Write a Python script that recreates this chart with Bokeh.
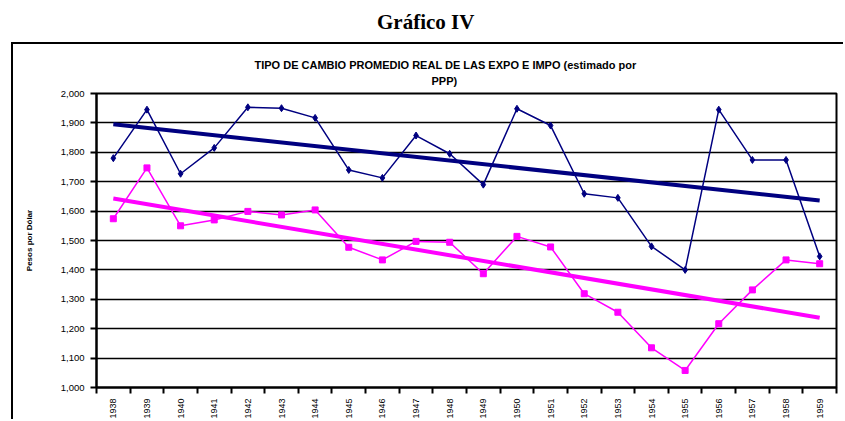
import numpy as np
from bokeh.plotting import figure
from bokeh.layouts import column
from bokeh.models import FixedTicker, NumeralTickFormatter, Label, Range1d, Title
from bokeh.embed import file_html
from bokeh.resources import INLINE

years = list(range(1938, 1960))
expo = [1780, 1945, 1727, 1815, 1953, 1950, 1917, 1740, 1713, 1857, 1795,
        1690, 1948, 1891, 1659, 1645, 1480, 1400, 1945, 1774, 1774, 1446]
impo = [1574, 1747, 1550, 1570, 1599, 1587, 1604, 1477, 1434, 1497, 1494,
        1387, 1514, 1478, 1319, 1256, 1135, 1058, 1217, 1332, 1434, 1421]
y_ticks = list(range(1000, 2001, 100))
main_title = "Gráfico IV"
chart_title_1 = "TIPO DE CAMBIO PROMEDIO REAL DE LAS EXPO E IMPO (estimado por"
chart_title_2 = "PPP)"
y_label = "Pesos por Dólar"

NAVY = "#000080"
PINK = "#FF00FF"
FONT = "Liberation Sans"

# ---- header with the page title ----
header = figure(width=845, height=42, x_range=Range1d(0, 845), y_range=Range1d(0, 1),
                output_backend="svg", toolbar_location=None, min_border=0,
                x_axis_location=None, y_axis_location=None)
header.grid.visible = False
header.outline_line_color = None
header.add_layout(Label(x=384, y=0.5, text=main_title, text_font="Liberation Serif",
                        text_font_style="bold", text_font_size="21px", text_color="black",
                        text_align="center", text_baseline="middle"))

# ---- chart in its box ----
p = figure(width=832, height=377, x_range=Range1d(years[0] - 0.5, years[-1] + 0.5),
           y_range=Range1d(y_ticks[0], y_ticks[-1]), output_backend="svg",
           toolbar_location=None, min_border_left=83, min_border_right=9,
           min_border_top=49, min_border_bottom=34, margin=(0, 0, 0, 11))
p.styles = {"border-left": "2px solid black", "border-top": "2px solid black"}

p.title.text = chart_title_1
p.title.align = "left"
p.title.offset = 158
p.title.text_font = FONT
p.title.text_font_size = "11px"
p.title.text_font_style = "bold"
p.title.text_color = "black"
p.title.standoff = -8
p.add_layout(Title(text=chart_title_2, align="left", offset=335, text_font=FONT,
                   text_font_size="11px", text_font_style="bold", text_color="black",
                   standoff=13), "above")

# trend lines (least squares, as in the spreadsheet)
for series, col in ((expo, NAVY), (impo, PINK)):
    m, b = np.polyfit(years, series, 1)
    xs = [years[0], years[-1]]
    p.line(xs, [m * x + b for x in xs], line_color=col, line_width=4)

p.line(years, expo, line_color=NAVY, line_width=1.5)
p.scatter(years, expo, marker="diamond", size=7, color=NAVY)
p.line(years, impo, line_color=PINK, line_width=1.5)
p.scatter(years, impo, marker="square", size=6, color=PINK)

# axes
p.xaxis.ticker = FixedTicker(ticks=years, minor_ticks=[y - 0.5 for y in years] + [years[-1] + 0.5])
p.xaxis.major_label_overrides = {y: str(y) for y in years}
p.xaxis.major_tick_out = 0
p.xaxis.major_tick_in = 0
p.xaxis.minor_tick_out = 6
p.xaxis.minor_tick_in = 0
p.xaxis.minor_tick_line_color = "black"
p.xaxis.minor_tick_line_width = 2
p.xaxis.major_label_orientation = np.pi / 2
p.xaxis.major_label_standoff = 5
p.xaxis.major_label_text_font_size = "9px"

p.yaxis.ticker = FixedTicker(ticks=y_ticks)
p.yaxis.formatter = NumeralTickFormatter(format="0,0")
p.yaxis.major_tick_out = 6
p.yaxis.major_tick_in = 0
p.yaxis.major_tick_line_width = 2
p.yaxis.minor_tick_line_color = None
p.yaxis.major_label_text_font_size = "9.5px"
p.yaxis.major_label_standoff = 6
p.yaxis.axis_label = y_label
p.yaxis.axis_label_text_font_size = "8px"
p.yaxis.axis_label_text_font_style = "bold"
p.yaxis.axis_label_standoff = 24

for ax in (p.xaxis, p.yaxis):
    ax.axis_line_width = 2
    ax.axis_line_color = "black"
    ax.major_tick_line_color = "black"
    ax.major_label_text_font = FONT
    ax.major_label_text_color = "black"
    ax.axis_label_text_font = FONT
    ax.axis_label_text_color = "black"

p.xgrid.visible = False
p.ygrid.ticker = FixedTicker(ticks=y_ticks)
p.ygrid.grid_line_color = "black"
p.ygrid.grid_line_width = 1.5
p.outline_line_color = "black"
p.outline_line_width = 2

layout = column(header, p, spacing=0)
open("out.html", "w").write(file_html(layout, INLINE))
